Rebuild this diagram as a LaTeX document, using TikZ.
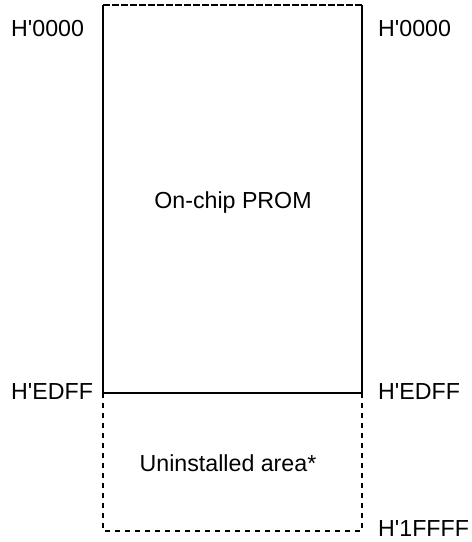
\documentclass[tikz,border=0pt]{standalone}
\usepackage{fontspec}
\setmainfont{Liberation Sans}[Ligatures=TeXOff]
\begin{document}
\begin{tikzpicture}[x=1pt,y=-1pt,
  lbl/.style={font=\fontsize{23.2}{26}\selectfont, inner sep=0pt},
  solidline/.style={line width=1.8pt},
  topdash/.style={line width=1.8pt, dash pattern=on 7pt off 2pt},
  lowdash/.style={line width=1.8pt, dash pattern=on 5pt off 5pt}]
\useasboundingbox (0,0) rectangle (472,542);
\coordinate (tl) at (103,5);
\coordinate (tr) at (362,5);
\coordinate (ml) at (103,393);
\coordinate (mr) at (362,393);
\coordinate (bl) at (103,531);
\coordinate (br) at (362,531);
\draw[topdash] (tl) -- (tr);
\draw[solidline] (tl) -- (ml) -- (mr) -- (tr);
\draw[lowdash] (ml) -- (bl) -- (br) -- (mr);
\node[lbl, anchor=west] (a0l) at (11,29) {H'0000};
\node[lbl, anchor=west] (a0r) at (378,29) {H'0000};
\node[lbl] (prom) at (233,202) {On-chip PROM};
\node[lbl, anchor=west] (edl) at (11,392) {H'EDFF};
\node[lbl, anchor=west] (edr) at (378,392) {H'EDFF};
\node[lbl] (un) at (228,463) {Uninstalled area*};
\node[lbl, anchor=west] (end) at (378,529) {H'1FFFF};
\end{tikzpicture}
\end{document}
